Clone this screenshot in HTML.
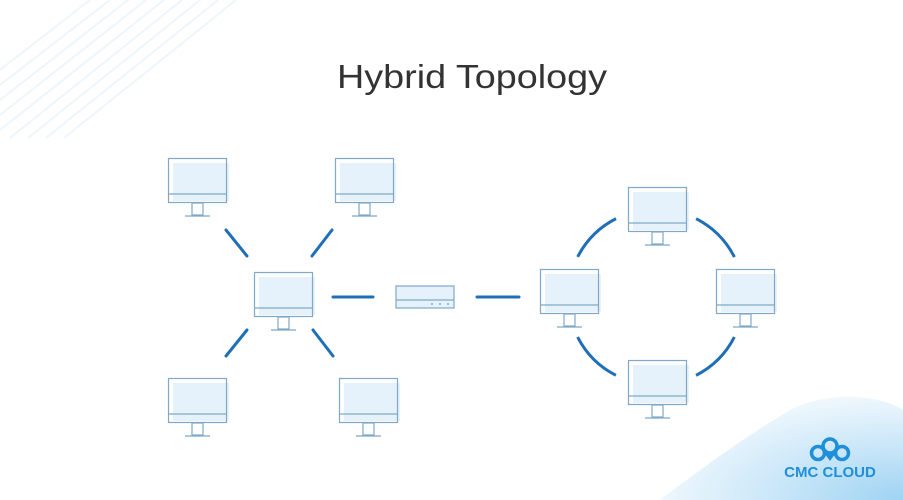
<!DOCTYPE html>
<html><head><style>
html,body{margin:0;padding:0;background:#fff;width:903px;height:500px;overflow:hidden}
</style></head><body>
<svg width="903" height="500" viewBox="0 0 903 500" xmlns="http://www.w3.org/2000/svg">
<defs>
<radialGradient id="bg" cx="1" cy="1" r="1">
<stop offset="0" stop-color="#9fd3f3"/><stop offset="0.6" stop-color="#cfe9f9"/><stop offset="1" stop-color="#eef7fd"/>
</radialGradient>
<g id="mon">
<rect x="5" y="5" width="56" height="38" fill="#e6f2fb"/>
<rect x="0.5" y="0.5" width="58" height="44" fill="none" stroke="#7fa9c6" stroke-width="1.2"/>
<line x1="0.5" y1="36" x2="58.5" y2="36" stroke="#7fa9c6" stroke-width="1.2"/>
<rect x="24" y="45" width="11" height="12" fill="none" stroke="#7fa9c6" stroke-width="1.2"/>
<line x1="17" y1="58" x2="42" y2="58" stroke="#7fa9c6" stroke-width="1.2"/>
</g>
</defs>
<g stroke="#eef5fb" stroke-width="2">
<line x1="0" y1="70" x2="90" y2="0"/><line x1="0" y1="85" x2="110" y2="0"/>
<line x1="0" y1="100" x2="128" y2="0"/><line x1="0" y1="115" x2="146" y2="0"/>
<line x1="0" y1="130" x2="164" y2="0"/><line x1="10" y1="138" x2="182" y2="0"/>
<line x1="28" y1="138" x2="200" y2="0"/><line x1="46" y1="138" x2="218" y2="0"/>
<line x1="64" y1="138" x2="236" y2="0"/>
</g>
<path d="M660 500 C700 470 740 440 790 410 C830 390 880 395 903 410 L903 500 Z" fill="url(#bg)"/>
<text x="337" y="88" textLength="270" lengthAdjust="spacingAndGlyphs" font-family="Liberation Sans, sans-serif" font-size="33" fill="#333">Hybrid Topology</text>
<use href="#mon" x="168" y="158"/>
<use href="#mon" x="335" y="158"/>
<use href="#mon" x="254" y="272"/>
<use href="#mon" x="168" y="378"/>
<use href="#mon" x="339" y="378"/>
<use href="#mon" x="540" y="269"/>
<use href="#mon" x="628" y="187"/>
<use href="#mon" x="716" y="269"/>
<use href="#mon" x="628" y="360"/>
<g>
<rect x="396" y="286" width="58" height="22" fill="#e6f2fb" stroke="#7fa9c6" stroke-width="1.2"/>
<line x1="396" y1="300" x2="454" y2="300" stroke="#7fa9c6" stroke-width="1.2"/>
<circle cx="432" cy="304" r="1" fill="#7fa9c6"/><circle cx="440" cy="304" r="1" fill="#7fa9c6"/><circle cx="448" cy="304" r="1" fill="#7fa9c6"/>
</g>
<g stroke="#1f6fb6" stroke-width="3" stroke-linecap="round" fill="none">
<line x1="226" y1="230" x2="247" y2="256"/>
<line x1="332" y1="230" x2="312" y2="256"/>
<line x1="247" y1="330" x2="226" y2="356"/>
<line x1="313" y1="330" x2="333" y2="356"/>
<line x1="333" y1="297" x2="373" y2="297"/>
<line x1="477" y1="297" x2="519" y2="297"/>
<circle cx="656" cy="297" r="88" stroke-dasharray="55 83.2" stroke-dashoffset="-41.6" stroke-linecap="butt"/>
</g>
<g fill="none" stroke="#1e8fd8" stroke-width="3.5">
<circle cx="830" cy="446" r="7"/><circle cx="818" cy="453" r="6.5"/><circle cx="842" cy="453" r="6.5"/>
<path d="M822 447 L830 458 L838 447"/>
</g>
<text x="830" y="477" text-anchor="middle" font-family="Liberation Sans, sans-serif" font-weight="bold" font-size="15" fill="#1e8fd8">CMC CLOUD</text>
</svg>
</body></html>
